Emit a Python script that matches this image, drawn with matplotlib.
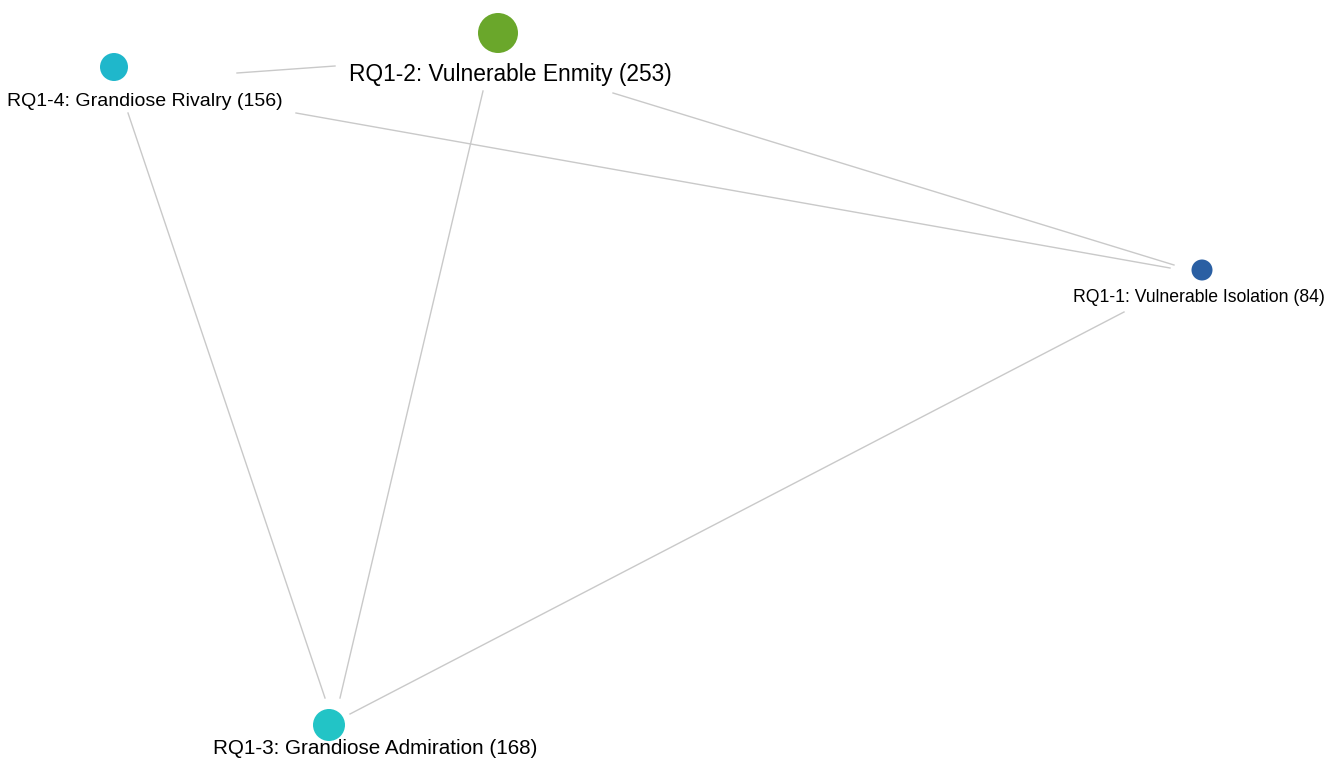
import matplotlib
matplotlib.use("Agg")
import matplotlib.pyplot as plt

# Nodes (layout coordinates, y grows downwards)
codigos = ["RQ1-1", "RQ1-2", "RQ1-3", "RQ1-4"]
nomes = ["Vulnerable Isolation", "Vulnerable Enmity", "Grandiose Admiration", "Grandiose Rivalry"]
contagens = [84, 253, 168, 156]
node_x = [1202, 498, 329, 114]
node_y = [270, 33, 725, 67]
node_cores = ["#2A5FA3", "#6AA72B", "#22C4C6", "#1FB7CB"]
node_diam = [21, 40, 32, 28]
label_x = [1199, 510, 375, 145]
label_y = [297, 74, 749, 101]
label_size = [12.7, 16.4, 14.9, 14.0]

# Edges (visible segments)
edge_x0 = [237, 296, 128, 483, 613, 1124]
edge_y0 = [73, 113, 113, 91, 93, 312]
edge_x1 = [335, 1170, 325, 340, 1174, 350]
edge_y1 = [66, 268, 698, 698, 265, 714]

W, H = 1338, 765
fig = plt.figure(figsize=(W / 100, H / 100), dpi=100)
ax = fig.add_axes([0, 0, 1, 1])
ax.set_xlim(0, W)
ax.set_ylim(H, 0)
ax.axis("off")

for x0, y0, x1, y1 in zip(edge_x0, edge_y0, edge_x1, edge_y1):
    ax.plot([x0, x1], [y0, y1], color="#C9C9C9", lw=1.0, zorder=1)

tamanhos = [(d * 0.72) ** 2 for d in node_diam]
ax.scatter(node_x, node_y, s=tamanhos, c=node_cores, linewidths=0, zorder=2)

for cod, nome, n, lx, ly, fs in zip(codigos, nomes, contagens, label_x, label_y, label_size):
    ax.text(lx, ly, f"{cod}: {nome} ({n})", ha="center", va="center",
            fontsize=fs, family="Liberation Sans", color="#000000", zorder=3)

fig.savefig("out.png", dpi=100, facecolor="white")
